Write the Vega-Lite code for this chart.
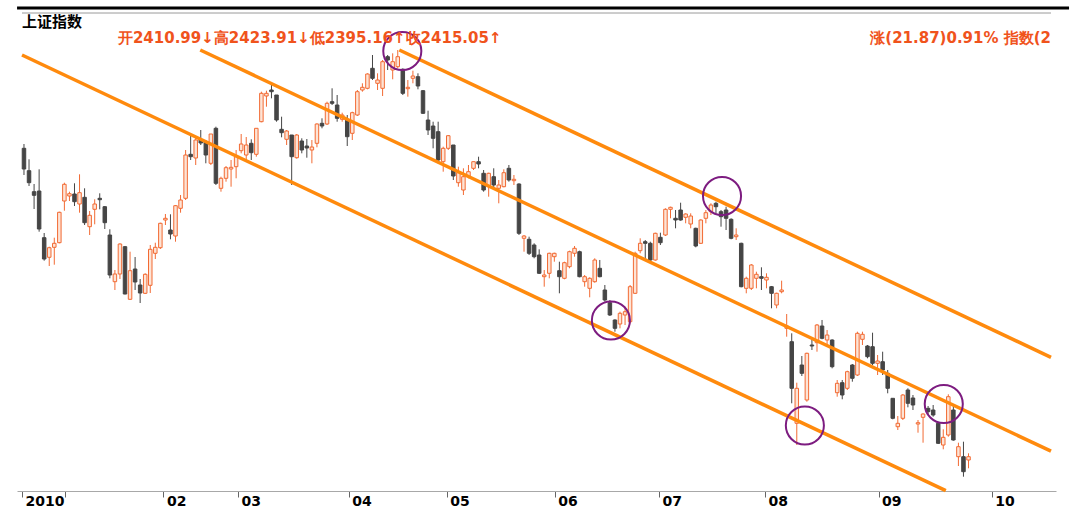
{
  "$schema": "https://vega.github.io/schema/vega-lite/v6.json",
  "width": 1039,
  "height": 478,
  "padding": {"left": 17, "top": 13, "right": 18, "bottom": 17},
  "autosize": {"type": "none"},
  "background": "white",
  "config": {"view": {"stroke": null}},
  "resolve": {"axis": {"x": "independent", "y": "independent"}},
  "datasets": {
    "candles": [
      {"d":0,"o":3003.4,"h":3012,"l":2950,"c":2962},
      {"d":1,"o":2958.6,"h":2981.4,"l":2928,"c":2934.6},
      {"d":2,"o":2916.6,"h":2932,"l":2882,"c":2909.4},
      {"d":3,"o":2918,"h":2961.4,"l":2836.6,"c":2842},
      {"d":4,"o":2824.6,"h":2834,"l":2778.6,"c":2782},
      {"d":5,"o":2785.4,"h":2806.6,"l":2768,"c":2804.6},
      {"d":6,"o":2805.4,"h":2824.6,"l":2770.6,"c":2813.4},
      {"d":7,"o":2814.6,"h":2876.6,"l":2813.4,"c":2875.4},
      {"d":8,"o":2898,"h":2934.6,"l":2878.6,"c":2931.4},
      {"d":9,"o":2908,"h":2916.6,"l":2898,"c":2912.6},
      {"d":10,"o":2912,"h":2933.4,"l":2888,"c":2896.6},
      {"d":11,"o":2892,"h":2951.4,"l":2874.6,"c":2914.6},
      {"d":12,"o":2905.4,"h":2923.4,"l":2850,"c":2854.6},
      {"d":13,"o":2846.6,"h":2878,"l":2830,"c":2869.4},
      {"d":14,"o":2881.4,"h":2901.4,"l":2851.4,"c":2892},
      {"d":15,"o":2903.4,"h":2913.4,"l":2881.4,"c":2900.6},
      {"d":16,"o":2886.6,"h":2888,"l":2842,"c":2854.6},
      {"d":17,"o":2830,"h":2841.4,"l":2743.4,"c":2750},
      {"d":18,"o":2736.6,"h":2760,"l":2720,"c":2752},
      {"d":19,"o":2752,"h":2813.4,"l":2742,"c":2812},
      {"d":20,"o":2806.6,"h":2808,"l":2711.4,"c":2712},
      {"d":21,"o":2701.4,"h":2796.6,"l":2700,"c":2758.6},
      {"d":22,"o":2762,"h":2786,"l":2720,"c":2736},
      {"d":23,"o":2730,"h":2742,"l":2694,"c":2714},
      {"d":24,"o":2713.4,"h":2753.4,"l":2712,"c":2751.4},
      {"d":25,"o":2729.4,"h":2810,"l":2714,"c":2801.4},
      {"d":26,"o":2793.4,"h":2814.6,"l":2782,"c":2805.4},
      {"d":27,"o":2804.6,"h":2854.6,"l":2802,"c":2853.4},
      {"d":28,"o":2860,"h":2872,"l":2850,"c":2863.4},
      {"d":29,"o":2840,"h":2871.4,"l":2821.4,"c":2832},
      {"d":30,"o":2828,"h":2890,"l":2816.6,"c":2888.6},
      {"d":31,"o":2883.4,"h":2910,"l":2874.6,"c":2900},
      {"d":32,"o":2903.4,"h":3000,"l":2900,"c":2990},
      {"d":33,"o":2991.4,"h":3028,"l":2980,"c":2986.6},
      {"d":34,"o":2984,"h":3028,"l":2970,"c":3020},
      {"d":35,"o":3020,"h":3040,"l":3010,"c":3014},
      {"d":36,"o":3016.6,"h":3020,"l":2973.4,"c":2990},
      {"d":37,"o":2973.4,"h":3032,"l":2970,"c":3032},
      {"d":38,"o":3043.4,"h":3046.6,"l":2930,"c":2933.4},
      {"d":39,"o":2923.4,"h":2946.6,"l":2916.6,"c":2943.4},
      {"d":40,"o":2943.4,"h":2968,"l":2936.6,"c":2964.6},
      {"d":41,"o":2962,"h":2980,"l":2926.6,"c":2965.4},
      {"d":42,"o":2966.6,"h":3000,"l":2943.4,"c":2986.6},
      {"d":43,"o":2998.6,"h":3032,"l":2993.4,"c":3012},
      {"d":44,"o":2990,"h":3026,"l":2976,"c":3010},
      {"d":45,"o":3013.4,"h":3021.4,"l":2980,"c":2994.6},
      {"d":46,"o":2991.4,"h":3043.4,"l":2986.6,"c":3043.4},
      {"d":47,"o":3056.6,"h":3116.6,"l":3055.4,"c":3113.4},
      {"d":48,"o":3108,"h":3118.6,"l":3086.6,"c":3113.4},
      {"d":49,"o":3120,"h":3130,"l":3103.4,"c":3116.6},
      {"d":50,"o":3110,"h":3110,"l":3056.6,"c":3060},
      {"d":51,"o":3041.4,"h":3066.6,"l":3025.4,"c":3034.6},
      {"d":52,"o":3021.4,"h":3040,"l":3010,"c":3038},
      {"d":53,"o":3030,"h":3030,"l":2930,"c":2986.6},
      {"d":54,"o":2984.6,"h":3032,"l":2982.6,"c":3030},
      {"d":55,"o":3018,"h":3023.4,"l":2993.4,"c":3000},
      {"d":56,"o":3008,"h":3022,"l":2984.6,"c":3004},
      {"d":57,"o":3000,"h":3020,"l":2973.4,"c":3006},
      {"d":58,"o":3013.4,"h":3053.4,"l":3005.4,"c":3052},
      {"d":59,"o":3053.4,"h":3063.4,"l":3043.4,"c":3048},
      {"d":60,"o":3052,"h":3096.6,"l":3050,"c":3093.4},
      {"d":61,"o":3096.6,"h":3123.4,"l":3090,"c":3093.4},
      {"d":62,"o":3090,"h":3110,"l":3056.6,"c":3063.4},
      {"d":63,"o":3061.4,"h":3074.6,"l":3056.6,"c":3070},
      {"d":64,"o":3060,"h":3070,"l":3008,"c":3026.6},
      {"d":65,"o":3033.4,"h":3076.6,"l":3020,"c":3074.6},
      {"d":66,"o":3070,"h":3120,"l":3068,"c":3116.6},
      {"d":67,"o":3120,"h":3133.4,"l":3116.6,"c":3125.4},
      {"d":68,"o":3123.4,"h":3153.4,"l":3121.4,"c":3152},
      {"d":69,"o":3163.4,"h":3190,"l":3140,"c":3143.4},
      {"d":70,"o":3133.4,"h":3153.4,"l":3120,"c":3140},
      {"d":71,"o":3123.4,"h":3180,"l":3108,"c":3176.6},
      {"d":72,"o":3186.6,"h":3190,"l":3160,"c":3180},
      {"d":73,"o":3160,"h":3193.4,"l":3141.4,"c":3176.6},
      {"d":74,"o":3166.6,"h":3200,"l":3163.4,"c":3186.6},
      {"d":75,"o":3161.4,"h":3163.4,"l":3110,"c":3113.4},
      {"d":76,"o":3122.6,"h":3140,"l":3106.6,"c":3125.4},
      {"d":77,"o":3143.4,"h":3158.6,"l":3133.4,"c":3148},
      {"d":78,"o":3146.6,"h":3153.4,"l":3121.4,"c":3128},
      {"d":79,"o":3118.6,"h":3120,"l":3072,"c":3073.4},
      {"d":80,"o":3060,"h":3078.6,"l":3030,"c":3040},
      {"d":81,"o":3048,"h":3056.6,"l":3003.4,"c":3023.4},
      {"d":82,"o":3036.6,"h":3056.6,"l":2973.4,"c":2980},
      {"d":83,"o":2976.6,"h":3006.6,"l":2956.6,"c":3003.4},
      {"d":84,"o":3003.4,"h":3030,"l":3000,"c":3028.6},
      {"d":85,"o":3010,"h":3010,"l":2940,"c":2948},
      {"d":86,"o":2934.6,"h":2966.6,"l":2926.6,"c":2954.6},
      {"d":87,"o":2920,"h":2963.4,"l":2910,"c":2946.6},
      {"d":88,"o":2946.6,"h":2970,"l":2943.4,"c":2956.6},
      {"d":89,"o":2963.4,"h":2976.6,"l":2960,"c":2976.6},
      {"d":90,"o":2976.6,"h":2986.6,"l":2963.4,"c":2972},
      {"d":91,"o":2953.4,"h":2960,"l":2916.6,"c":2920},
      {"d":92,"o":2926.6,"h":2954.6,"l":2906.6,"c":2953.4},
      {"d":93,"o":2946.6,"h":2963.4,"l":2923.4,"c":2930},
      {"d":94,"o":2923.4,"h":2940,"l":2893.4,"c":2930},
      {"d":95,"o":2926.6,"h":2961.4,"l":2925.4,"c":2954.6},
      {"d":96,"o":2963.4,"h":2970,"l":2936.6,"c":2940},
      {"d":97,"o":2938.6,"h":2950,"l":2930,"c":2941.4},
      {"d":98,"o":2932,"h":2933.4,"l":2830,"c":2833.4},
      {"d":99,"o":2823.4,"h":2830,"l":2796.6,"c":2828},
      {"d":100,"o":2821.4,"h":2826.6,"l":2790,"c":2793.4},
      {"d":101,"o":2810,"h":2813.4,"l":2783.4,"c":2786.6},
      {"d":102,"o":2790,"h":2801.4,"l":2752,"c":2753.4},
      {"d":103,"o":2746.6,"h":2760,"l":2726.6,"c":2750},
      {"d":104,"o":2753.4,"h":2794.6,"l":2743.4,"c":2793.4},
      {"d":105,"o":2786.6,"h":2794.6,"l":2776.6,"c":2793.4},
      {"d":106,"o":2758.6,"h":2776.6,"l":2713.4,"c":2746.6},
      {"d":107,"o":2743.4,"h":2776.6,"l":2741.4,"c":2774.6},
      {"d":108,"o":2766.6,"h":2798.6,"l":2763.4,"c":2796.6},
      {"d":109,"o":2793.4,"h":2808,"l":2786.6,"c":2803.4},
      {"d":110,"o":2796.6,"h":2798.6,"l":2745.4,"c":2746.6},
      {"d":111,"o":2736.6,"h":2750,"l":2726.6,"c":2746.6},
      {"d":112,"o":2723.4,"h":2745.4,"l":2705.4,"c":2743.4},
      {"d":113,"o":2736.6,"h":2783.4,"l":2734.6,"c":2780},
      {"d":114,"o":2763.4,"h":2780,"l":2745.4,"c":2746.6},
      {"d":115,"o":2720,"h":2730,"l":2696.6,"c":2700},
      {"d":116,"o":2694.6,"h":2700,"l":2668,"c":2670},
      {"d":117,"o":2660,"h":2661.4,"l":2636.6,"c":2643.4},
      {"d":118,"o":2652,"h":2676.6,"l":2643.4,"c":2673.4},
      {"d":119,"o":2670,"h":2686.6,"l":2650,"c":2676.6},
      {"d":120,"o":2656.6,"h":2730,"l":2653.4,"c":2726.6},
      {"d":121,"o":2713.4,"h":2796.6,"l":2712,"c":2793.4},
      {"d":122,"o":2798.6,"h":2823.4,"l":2793.4,"c":2813.4},
      {"d":123,"o":2816.6,"h":2820,"l":2780,"c":2813.4},
      {"d":124,"o":2813.4,"h":2816.6,"l":2776.6,"c":2780},
      {"d":125,"o":2780,"h":2834.6,"l":2778.6,"c":2833.4},
      {"d":126,"o":2825.4,"h":2834.6,"l":2810,"c":2814.6},
      {"d":127,"o":2830,"h":2883.4,"l":2828,"c":2881.4},
      {"d":128,"o":2881.4,"h":2886.6,"l":2863.4,"c":2885.4},
      {"d":129,"o":2863.4,"h":2880,"l":2843.4,"c":2860},
      {"d":130,"o":2880,"h":2894.6,"l":2858.6,"c":2860},
      {"d":131,"o":2865.4,"h":2873.4,"l":2853.4,"c":2872},
      {"d":132,"o":2852,"h":2873.4,"l":2843.4,"c":2868},
      {"d":133,"o":2843.4,"h":2844.6,"l":2805.4,"c":2808},
      {"d":134,"o":2813.4,"h":2861.4,"l":2812,"c":2860},
      {"d":135,"o":2863.4,"h":2880,"l":2853.4,"c":2874.6},
      {"d":136,"o":2876.6,"h":2893.4,"l":2870,"c":2890},
      {"d":137,"o":2893.4,"h":2896.6,"l":2873.4,"c":2886.6},
      {"d":138,"o":2876.6,"h":2880,"l":2846.6,"c":2866.6},
      {"d":139,"o":2880,"h":2886.6,"l":2840,"c":2863.4},
      {"d":140,"o":2861.4,"h":2863.4,"l":2821.4,"c":2823.4},
      {"d":141,"o":2826.6,"h":2843.4,"l":2820,"c":2830},
      {"d":142,"o":2813.4,"h":2814.6,"l":2725.4,"c":2726.6},
      {"d":143,"o":2723.4,"h":2746.6,"l":2713.4,"c":2743.4},
      {"d":144,"o":2723.4,"h":2772,"l":2720,"c":2770},
      {"d":145,"o":2743.4,"h":2756.6,"l":2723.4,"c":2751.4},
      {"d":146,"o":2746.6,"h":2765.4,"l":2720,"c":2743.4},
      {"d":147,"o":2740,"h":2753.4,"l":2723.4,"c":2745.4},
      {"d":148,"o":2726.6,"h":2728,"l":2683.4,"c":2713.4},
      {"d":149,"o":2690,"h":2714.6,"l":2683.4,"c":2713.4},
      {"d":150,"o":2716.6,"h":2738.6,"l":2713.4,"c":2720},
      {"d":151,"o":2643.4,"h":2672,"l":2626.6,"c":2648},
      {"d":152,"o":2616.6,"h":2633.4,"l":2493.4,"c":2523.4},
      {"d":153,"o":2453.4,"h":2534.6,"l":2410,"c":2523.4},
      {"d":154,"o":2570,"h":2588,"l":2548,"c":2553.4},
      {"d":155,"o":2500,"h":2594.6,"l":2496.6,"c":2593.4},
      {"d":156,"o":2610,"h":2621.4,"l":2600,"c":2608},
      {"d":157,"o":2614.6,"h":2652,"l":2596.6,"c":2650},
      {"d":158,"o":2648,"h":2660,"l":2621.4,"c":2623.4},
      {"d":159,"o":2620,"h":2640,"l":2610,"c":2630},
      {"d":160,"o":2620,"h":2621.4,"l":2563.4,"c":2566.6},
      {"d":161,"o":2514.6,"h":2540,"l":2506.6,"c":2533.4},
      {"d":162,"o":2534.6,"h":2540,"l":2501.4,"c":2510},
      {"d":163,"o":2523.4,"h":2558.6,"l":2520,"c":2556.6},
      {"d":164,"o":2570,"h":2572,"l":2536.6,"c":2543.4},
      {"d":165,"o":2550,"h":2636.6,"l":2548,"c":2633.4},
      {"d":166,"o":2621.4,"h":2636.6,"l":2610,"c":2631.4},
      {"d":167,"o":2608,"h":2610,"l":2583.4,"c":2586.6},
      {"d":168,"o":2606.6,"h":2634.6,"l":2570,"c":2573.4},
      {"d":169,"o":2573.4,"h":2590,"l":2550,"c":2578},
      {"d":170,"o":2576.6,"h":2596.6,"l":2550,"c":2560},
      {"d":171,"o":2553.4,"h":2560,"l":2513.4,"c":2523.4},
      {"d":172,"o":2503.4,"h":2503.4,"l":2461.4,"c":2463.4},
      {"d":173,"o":2446.6,"h":2468,"l":2440,"c":2453.4},
      {"d":174,"o":2463.4,"h":2512,"l":2460,"c":2510},
      {"d":175,"o":2520,"h":2523.4,"l":2485.4,"c":2493.4},
      {"d":176,"o":2504,"h":2510,"l":2480,"c":2490},
      {"d":177,"o":2452,"h":2460,"l":2434.6,"c":2454.6},
      {"d":178,"o":2465.4,"h":2473.4,"l":2414.6,"c":2472},
      {"d":179,"o":2483.4,"h":2488,"l":2470,"c":2476.6},
      {"d":180,"o":2480,"h":2490,"l":2466.6,"c":2470},
      {"d":181,"o":2453.4,"h":2454.6,"l":2412,"c":2413.4},
      {"d":182,"o":2410,"h":2441.4,"l":2401.4,"c":2425.4},
      {"d":183,"o":2430,"h":2511.4,"l":2426.6,"c":2506.6},
      {"d":184,"o":2480,"h":2488,"l":2418.6,"c":2420},
      {"d":185,"o":2386.6,"h":2414.6,"l":2368,"c":2406.6},
      {"d":186,"o":2386.6,"h":2416.6,"l":2346.6,"c":2356.6},
      {"d":187,"o":2380,"h":2393.4,"l":2363.4,"c":2386.6}
    ],
    "trend": [
      {"t":"lower","d":-0.392,"p":3190},
      {"t":"lower","d":182.5,"p":2318.6},
      {"t":"middle","d":34.9,"p":3200},
      {"t":"middle","d":203.33,"p":2397.6},
      {"t":"upper","d":74.31,"p":3200},
      {"t":"upper","d":203.33,"p":2585.4}
    ],
    "rings": [
      {"d":74.9,"p":3198},
      {"d":138.2,"p":2908},
      {"d":116.2,"p":2659},
      {"d":154.6,"p":2449},
      {"d":182.1,"p":2492}
    ]
  },
  "layer": [
    {
      "data": {"name": "candles"},
      "mark": {"type": "rule", "strokeWidth": 1},
      "encoding": {
        "x": {
          "field": "d", "type": "quantitative",
          "scale": {"domain": [-0.392, 203.33], "nice": false, "zero": false},
          "axis": {
            "values": [-0.392, 8.04, 27.6, 42.35, 64.3, 83.7, 105.1, 125.7, 146.7, 169.2, 191.6],
            "labelExpr": "datum.value < 0 ? '2010' : datum.value < 10 ? '' : datum.value < 30 ? '02' : datum.value < 50 ? '03' : datum.value < 70 ? '04' : datum.value < 90 ? '05' : datum.value < 110 ? '06' : datum.value < 130 ? '07' : datum.value < 150 ? '08' : datum.value < 180 ? '09' : '10'",
            "title": null,
            "grid": false,
            "domainColor": "#a8a8a8",
            "domainWidth": 1,
            "tickColor": "#666666",
            "tickSize": 6,
            "labelAlign": "left",
            "labelBaseline": "top",
            "labelOffset": 3,
            "labelPadding": -3,
            "labelFont": "DejaVu Sans",
            "labelFontWeight": "bold",
            "labelFontSize": 14,
            "labelColor": "#000000",
            "labelOverlap": false,
            "labelFlush": false
          }
        },
        "y": {"field": "l", "type": "quantitative", "scale": {"domain": [2318, 3274], "nice": false, "zero": false}, "axis": null},
        "y2": {"field": "h"},
        "color": {"condition": {"test": "datum.c >= datum.o", "value": "#f26a33"}, "value": "#454545"}
      }
    },
    {
      "data": {"name": "candles"},
      "mark": {"type": "bar", "size": 3.5, "strokeWidth": 1},
      "encoding": {
        "x": {"field": "d", "type": "quantitative", "axis": null},
        "y": {"field": "o", "type": "quantitative", "axis": null},
        "y2": {"field": "c"},
        "fill": {"condition": {"test": "datum.c >= datum.o", "value": "#fde4d6"}, "value": "#454545"},
        "stroke": {"condition": {"test": "datum.c >= datum.o", "value": "#f26a33"}, "value": "#454545"}
      }
    },
    {
      "data": {"values": [{}]},
      "mark": {"type": "rule", "color": "#000000", "strokeWidth": 3, "clip": false},
      "encoding": {
        "x": {"datum": -1.37, "type": "quantitative", "axis": null},
        "x2": {"datum": 206.9},
        "y": {"datum": 3284, "type": "quantitative", "axis": null}
      }
    },
    {
      "data": {"values": [{}]},
      "mark": {"type": "rule", "color": "#9a9a9a", "strokeWidth": 1},
      "encoding": {
        "x": {"datum": -0.392, "type": "quantitative", "axis": null},
        "x2": {"datum": 203.33},
        "y": {"datum": 3274, "type": "quantitative", "axis": null}
      }
    },
    {
      "data": {"name": "trend"},
      "mark": {"type": "line", "color": "#ff8a0d", "strokeWidth": 3.5},
      "encoding": {
        "x": {"field": "d", "type": "quantitative", "axis": null},
        "y": {"field": "p", "type": "quantitative", "axis": null},
        "detail": {"field": "t"}
      }
    },
    {
      "data": {"name": "rings"},
      "mark": {"type": "point", "shape": "circle", "filled": false, "size": 1450, "stroke": "#7d1c80", "strokeWidth": 2, "opacity": 1},
      "encoding": {
        "x": {"field": "d", "type": "quantitative", "axis": null},
        "y": {"field": "p", "type": "quantitative", "axis": null}
      }
    },
    {
      "data": {"values": [{"label": "上证指数"}]},
      "mark": {"type": "text", "align": "left", "baseline": "middle", "font": "Noto Sans CJK SC", "fontWeight": "bold", "fontSize": 15, "color": "#000000"},
      "encoding": {
        "x": {"datum": -0.392, "type": "quantitative", "axis": null},
        "y": {"datum": 3256, "type": "quantitative", "axis": null},
        "text": {"field": "label"}
      }
    },
    {
      "data": {"values": [{"label": "开2410.99↓高2423.91↓低2395.16↑收2415.05↑"}]},
      "mark": {"type": "text", "align": "left", "baseline": "middle", "font": "DejaVu Sans", "fontWeight": "bold", "fontSize": 15, "color": "#f0531c"},
      "encoding": {
        "x": {"datum": 18.6, "type": "quantitative", "axis": null},
        "y": {"datum": 3224, "type": "quantitative", "axis": null},
        "text": {"field": "label"}
      }
    },
    {
      "data": {"values": [{"label": "涨(21.87)0.91% 指数(2"}]},
      "mark": {"type": "text", "align": "right", "baseline": "middle", "font": "DejaVu Sans", "fontWeight": "bold", "fontSize": 15, "color": "#f0531c"},
      "encoding": {
        "x": {"datum": 203.33, "type": "quantitative", "axis": null},
        "y": {"datum": 3224, "type": "quantitative", "axis": null},
        "text": {"field": "label"}
      }
    }
  ]
}
